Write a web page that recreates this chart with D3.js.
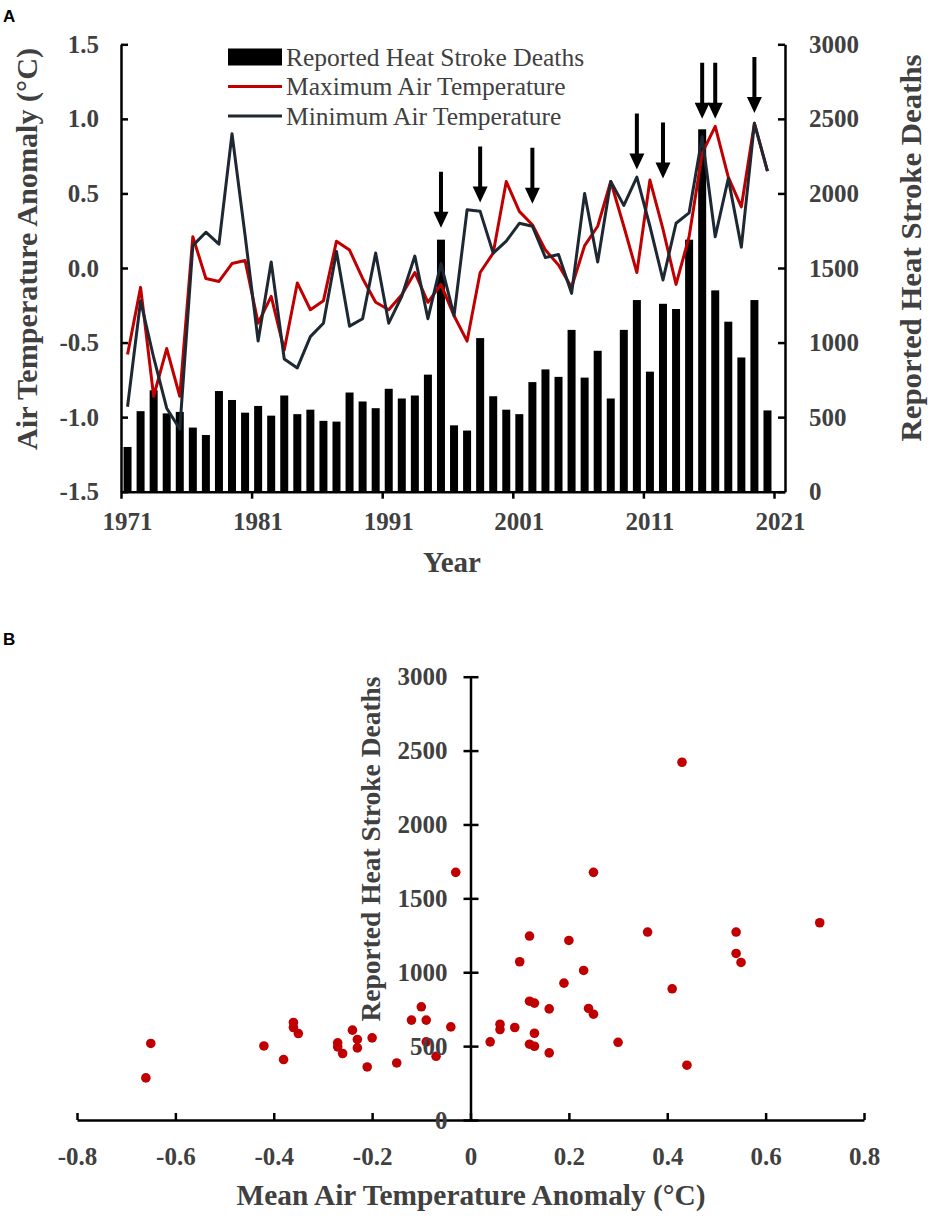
<!DOCTYPE html>
<html>
<head>
<meta charset="utf-8">
<script src="https://cdn.jsdelivr.net/npm/d3@7"></script>
<style>
  body { margin: 0; background: #fff; }
</style>
</head>
<body>
<div id="chart"></div>
<script>
(function() {
  'use strict'

  // Data //
  var years = [1971, 1972, 1973, 1974, 1975, 1976, 1977, 1978, 1979, 1980,
    1981, 1982, 1983, 1984, 1985, 1986, 1987, 1988, 1989, 1990,
    1991, 1992, 1993, 1994, 1995, 1996, 1997, 1998, 1999, 2000,
    2001, 2002, 2003, 2004, 2005, 2006, 2007, 2008, 2009, 2010,
    2011, 2012, 2013, 2014, 2015, 2016, 2017, 2018, 2019, 2020]

  var deaths = [300, 540, 680, 525, 535, 430, 380, 675, 615, 530,
    575, 510, 645, 520, 550, 475, 470, 665, 605, 560,
    690, 625, 645, 785, 1690, 445, 410, 1030, 640, 550,
    520, 735, 820, 770, 1085, 765, 945, 625, 1085, 1285,
    805, 1260, 1225, 1690, 2430, 1350, 1140, 900, 1285, 545]

  var maxTemp = [-0.58, -0.13, -0.86, -0.54, -0.86, 0.21, -0.07, -0.09, 0.03, 0.05,
    -0.37, -0.19, -0.55, -0.10, -0.28, -0.22, 0.18, 0.12, -0.07, -0.23,
    -0.28, -0.18, -0.03, -0.23, -0.11, -0.32, -0.49, -0.03, 0.10, 0.58,
    0.38, 0.29, 0.12, 0.02, -0.13, 0.15, 0.28, 0.58, 0.28, -0.03,
    0.59, 0.26, -0.11, 0.21, 0.77, 0.95, 0.61, 0.41, 0.97, 0.65]

  var minTemp = [-0.93, -0.22, -0.60, -0.94, -1.08, 0.15, 0.24, 0.16, 0.90, 0.22,
    -0.49, 0.04, -0.61, -0.67, -0.46, -0.37, 0.11, -0.39, -0.34, 0.10,
    -0.37, -0.19, 0.08, -0.34, 0.03, -0.32, 0.39, 0.38, 0.10, 0.18,
    0.30, 0.28, 0.07, 0.09, -0.17, 0.50, 0.04, 0.58, 0.42, 0.61,
    0.28, -0.08, 0.30, 0.37, 0.88, 0.21, 0.60, 0.14, 0.97, 0.65]

  // arrows marking the hottest years (tip value on the left axis)
  var arrowYears = [1995, 1998, 2002, 2010, 2012, 2015, 2016, 2019]
  var arrowTips = [0.27, 0.44, 0.43, 0.66, 0.60, 1.00, 1.00, 1.04]

  // panel B scatter
  var meanTemp = [-0.65, -0.66, -0.42, -0.38, -0.36, -0.36, -0.35, -0.27, -0.27, -0.26,
    -0.24, -0.23, -0.23, -0.21, -0.20, -0.15, -0.12, -0.10, -0.09, -0.09,
    -0.07, -0.04, -0.03, 0.43, 0.25, 0.12, 0.20, 0.36, 0.54, 0.71,
    0.54, 0.55, 0.10, 0.23, 0.19, 0.41, 0.12, 0.13, 0.16, 0.24,
    0.25, 0.06, 0.06, 0.09, 0.04, 0.13, 0.12, 0.13, 0.16, 0.30, 0.44]
  var scatterDeaths = [518, 285, 501, 409, 660, 626, 585, 522, 495, 450,
    608, 545, 488, 359, 556, 386, 676, 766, 676, 529,
    431, 630, 1676, 2421, 1676, 1245, 1215, 1272, 1272, 1335,
    1127, 1066, 1071, 1012, 926, 888, 804, 791, 752, 755,
    716, 648, 612, 626, 529, 587, 513, 499, 454, 526, 371]

  var yearTicks = [1971, 1981, 1991, 2001, 2011, 2021]
  var tempTicks = [-1.5, -1.0, -0.5, 0.0, 0.5, 1.0, 1.5]
  var deathTicks = [0, 500, 1000, 1500, 2000, 2500, 3000]
  var meanTicks = [-0.8, -0.6, -0.4, -0.2, 0, 0.2, 0.4, 0.6, 0.8]

  var legendLabels = ['Reported Heat Stroke Deaths', 'Maximum Air Temperature', 'Minimum Air Temperature']

  // SVG Setup //
  var width = 935,
    height = 1220,
    serif = '"Liberation Serif", "Times New Roman", serif',
    textColor = '#404040',
    red = '#c00000',
    navy = '#1e2833'

  var svg = d3.select('#chart').append('svg')
    .attr('width', width)
    .attr('height', height)

  function styleAxis(g, size) {
    g.attr('font-family', serif)
      .attr('font-size', size)
      .attr('font-weight', 'bold')
    g.select('.domain').attr('stroke', '#000').attr('stroke-width', 2.5)
    g.selectAll('.tick line').attr('stroke', '#000').attr('stroke-width', 2.5)
    g.selectAll('.tick text').attr('fill', textColor)
  }

  // ---------- Panel A ---------- //
  var left = 121, right = 785, top = 44.3, bottom = 491.7
  var x = d3.scaleLinear()
    .domain([1971, 1971 + (right - left) / 13.06])
    .range([left, right])
  var yL = d3.scaleLinear().domain([-1.5, 1.5]).range([bottom, top])
  var yR = d3.scaleLinear().domain([0, 3000]).range([bottom, top])
  var bw = 8

  var gA = svg.append('g')

  gA.selectAll('.bar')
    .data(years)
    .enter().append('rect')
    .attr('class', 'bar')
    .attr('x', function(d) { return x(d + 0.5) - bw / 2 })
    .attr('width', bw)
    .attr('y', function(d, i) { return yR(deaths[i]) })
    .attr('height', function(d, i) { return yR(0) - yR(deaths[i]) })
    .attr('fill', '#000')

  var line = function(vals) {
    return d3.line()
      .x(function(d) { return x(d + 0.5) })
      .y(function(d, i) { return yL(vals[i]) })
  }

  gA.append('path')
    .datum(years)
    .attr('d', line(maxTemp))
    .attr('fill', 'none')
    .attr('stroke', red)
    .attr('stroke-width', 3)
    .attr('stroke-linejoin', 'round')

  gA.append('path')
    .datum(years)
    .attr('d', line(minTemp))
    .attr('fill', 'none')
    .attr('stroke', navy)
    .attr('stroke-width', 3)
    .attr('stroke-linejoin', 'round')

  // arrows
  gA.selectAll('.arrow')
    .data(arrowYears)
    .enter().append('path')
    .attr('class', 'arrow')
    .attr('d', function(d, i) {
      var ax = x(d + 0.5), ay = yL(arrowTips[i])
      return 'M' + (ax - 2) + ',' + (ay - 56) +
        'H' + (ax + 2) + 'V' + (ay - 16) +
        'H' + (ax + 7.5) + 'L' + ax + ',' + ay +
        'L' + (ax - 7.5) + ',' + (ay - 16) +
        'H' + (ax - 2) + 'Z'
    })
    .attr('fill', '#000')

  // axes
  var axL = gA.append('g')
    .attr('transform', 'translate(' + left + ',0)')
    .call(d3.axisLeft(yL).tickValues(tempTicks)
      .tickFormat(function(d) { return d.toFixed(1) })
      .tickSizeInner(-7).tickSizeOuter(0).tickPadding(22))
  styleAxis(axL, 25)

  var axR = gA.append('g')
    .attr('transform', 'translate(' + right + ',0)')
    .call(d3.axisRight(yR).tickValues(deathTicks)
      .tickFormat(d3.format('d'))
      .tickSizeInner(-7).tickSizeOuter(0).tickPadding(24))
  styleAxis(axR, 25)

  var axB = gA.append('g')
    .attr('transform', 'translate(0,' + bottom + ')')
    .call(d3.axisBottom(x).tickValues(yearTicks)
      .tickFormat(d3.format('d'))
      .tickSize(7).tickSizeOuter(0).tickPadding(14))
  styleAxis(axB, 25)
  axB.selectAll('.tick text').attr('dx', 6)

  // axis titles
  gA.append('text')
    .attr('transform', 'translate(37,249) rotate(-90)')
    .attr('text-anchor', 'middle')
    .attr('font-family', serif)
    .attr('font-size', 30)
    .attr('font-weight', 'bold')
    .attr('fill', textColor)
    .attr('textLength', 402)
    .attr('lengthAdjust', 'spacingAndGlyphs')
    .text('Air Temperature Anomaly (°C)')

  gA.append('text')
    .attr('transform', 'translate(921,248) rotate(-90)')
    .attr('text-anchor', 'middle')
    .attr('font-family', serif)
    .attr('font-size', 30)
    .attr('font-weight', 'bold')
    .attr('fill', textColor)
    .attr('textLength', 387)
    .attr('lengthAdjust', 'spacingAndGlyphs')
    .text('Reported Heat Stroke Deaths')

  gA.append('text')
    .attr('x', 452)
    .attr('y', 572)
    .attr('text-anchor', 'middle')
    .attr('font-family', serif)
    .attr('font-size', 29)
    .attr('font-weight', 'bold')
    .attr('fill', textColor)
    .text('Year')

  // legend
  var rowY = [57, 86.5, 116]
  var lg = gA.append('g')
  lg.append('rect')
    .attr('x', 228).attr('y', rowY[0] - 8.5).attr('width', 54).attr('height', 17)
    .attr('fill', '#000')
  lg.append('line')
    .attr('x1', 228).attr('x2', 282).attr('y1', rowY[1]).attr('y2', rowY[1])
    .attr('stroke', red).attr('stroke-width', 3)
  lg.append('line')
    .attr('x1', 228).attr('x2', 282).attr('y1', rowY[2]).attr('y2', rowY[2])
    .attr('stroke', navy).attr('stroke-width', 3)
  lg.selectAll('.lgtext')
    .data(legendLabels)
    .enter().append('text')
    .attr('class', 'lgtext')
    .attr('x', 286)
    .attr('y', function(d, i) { return rowY[i] + 8.5 })
    .attr('font-family', serif)
    .attr('font-size', 25.5)
    .attr('fill', textColor)
    .text(function(d) { return d })

  svg.append('text')
    .attr('x', 3).attr('y', 22)
    .attr('font-family', '"Liberation Sans", Arial, sans-serif')
    .attr('font-size', 17)
    .attr('font-weight', 'bold')
    .text('A')

  // ---------- Panel B ---------- //
  var xB = d3.scaleLinear().domain([-0.8, 0.8]).range([77, 864])
  var yB = d3.scaleLinear().domain([0, 3000]).range([1120, 676.7])

  var gB = svg.append('g')

  gB.selectAll('.dot')
    .data(meanTemp)
    .enter().append('circle')
    .attr('class', 'dot')
    .attr('cx', function(d) { return xB(d) })
    .attr('cy', function(d, i) { return yB(scatterDeaths[i]) })
    .attr('r', 4.8)
    .attr('fill', red)

  var bx = gB.append('g')
    .attr('transform', 'translate(0,' + yB(0) + ')')
    .call(d3.axisBottom(xB).tickValues(meanTicks)
      .tickFormat(function(d) { return d === 0 ? '0' : d.toFixed(1) })
      .tickSizeInner(-7).tickSizeOuter(0).tickPadding(27))
  styleAxis(bx, 25)

  var by = gB.append('g')
    .attr('transform', 'translate(' + xB(0) + ',0)')
    .call(d3.axisLeft(yB).tickValues(deathTicks)
      .tickFormat(d3.format('d'))
      .tickSizeInner(7).tickSizeOuter(0).tickPadding(16))
  styleAxis(by, 25)
  by.selectAll('.tick line').attr('x1', 8)

  gB.append('text')
    .attr('transform', 'translate(380,849) rotate(-90)')
    .attr('text-anchor', 'middle')
    .attr('font-family', serif)
    .attr('font-size', 28)
    .attr('font-weight', 'bold')
    .attr('fill', textColor)
    .attr('textLength', 345)
    .attr('lengthAdjust', 'spacingAndGlyphs')
    .text('Reported Heat Stroke Deaths')

  gB.append('text')
    .attr('x', 471)
    .attr('y', 1205)
    .attr('text-anchor', 'middle')
    .attr('font-family', serif)
    .attr('font-size', 29)
    .attr('font-weight', 'bold')
    .attr('fill', textColor)
    .attr('textLength', 469)
    .attr('lengthAdjust', 'spacingAndGlyphs')
    .text('Mean Air Temperature Anomaly (°C)')

  svg.append('text')
    .attr('x', 3).attr('y', 645)
    .attr('font-family', '"Liberation Sans", Arial, sans-serif')
    .attr('font-size', 17)
    .attr('font-weight', 'bold')
    .text('B')
})()
</script>
</body>
</html>
